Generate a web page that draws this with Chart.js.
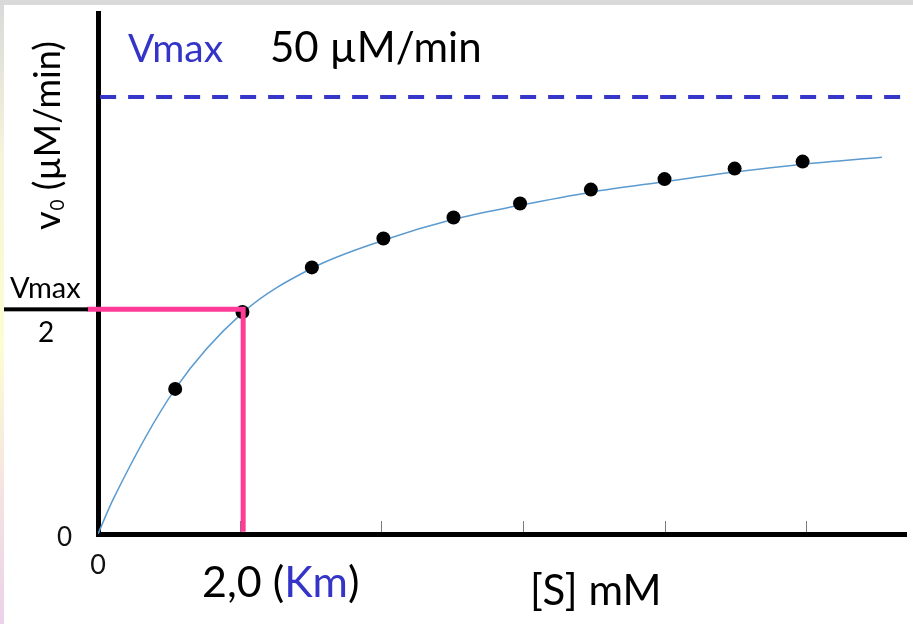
<!DOCTYPE html>
<html>
<head>
<meta charset="utf-8">
<title>Michaelis-Menten</title>
<script src="https://cdn.jsdelivr.net/npm/chart.js@4.4.0/dist/chart.umd.min.js"></script>
<style>
  html, body { margin: 0; padding: 0; background: #fff; }
  #frame {
    position: relative; width: 913px; height: 624px; overflow: hidden;
    background: linear-gradient(to bottom, #d9d9d9 0%, #f6f4da 25%, #fdfdd2 55%, #f4e2e2 80%, #ead2ea 100%);
  }
  #frame::before { content: ''; position: absolute; left: 0; top: 0; width: 913px; height: 5px; background: #d9d9d9; }
  #plot { position: absolute; left: 4px; top: 5px; width: 909px; height: 619px; background: #fff; }
</style>
</head>
<body>
<div id="frame"><div id="plot"><canvas id="mmChart"></canvas></div></div>
<script>
// Dados: [S] em mM, v0 em µM/min
const substrate = [1.09, 2.04, 3.02, 4.03, 5.02, 5.96, 6.96, 8.0, 8.99, 9.95];
const velocity  = [16.6, 25.4, 30.5, 33.8, 36.2, 37.8, 39.4, 40.6, 41.8, 42.6];

// curva ajustada (azul) - pontos lidos ao longo da linha
const curveS = [0, 0.21, 1.09, 2.04, 3.02, 4.03, 5.02, 5.96, 6.96, 8.0, 8.99, 9.95, 11.07];
const curveV = [0, 3.9, 16.6, 25.3, 30.4, 33.6, 36.0, 37.6, 39.1, 40.3, 41.4, 42.3, 43.1];

const vmax = 50;
const halfVmax = 25.7;
const km = 2.05;
const xRange = [0, 11.41];
const yRange = [0, 59.6];
const xTickMarks = [2, 4, 6, 8, 10];

const FONT = 'Lato, "Open Sans", sans-serif';
const BLUE_TEXT = '#3434c8';

function toPoints(xs, ys) {
    return xs.map((x, i) => ({ x: x, y: ys[i] }));
}

// sem padding extra dos rótulos: área do gráfico fica fixa
function noPadding(s) {
    s.paddingTop = 0;
    s.paddingBottom = 0;
    s.paddingLeft = 0;
    s.paddingRight = 0;
}

// desenha textos e marcas do eixo x
const annotations = {
    id: 'annotations',
    beforeDatasetsDraw(chart) {
        const { ctx, scales: { x }, chartArea } = chart;
        ctx.save();
        ctx.strokeStyle = '#7a7a7a';
        ctx.lineWidth = 1;
        xTickMarks.forEach(v => {
            const px = Math.round(x.getPixelForValue(v)) + 0.5;
            ctx.beginPath();
            ctx.moveTo(px, chartArea.bottom - 2);
            ctx.lineTo(px, chartArea.bottom - 13);
            ctx.stroke();
        });
        ctx.restore();
    },
    afterDraw(chart) {
        const { ctx, scales: { y } } = chart;
        ctx.save();
        ctx.textBaseline = 'alphabetic';
        ctx.textAlign = 'left';

        // Vmax 50 µM/min
        ctx.font = `39px ${FONT}`;
        ctx.fillStyle = BLUE_TEXT;
        ctx.fillText('Vmax', 124, 57);
        ctx.fillStyle = '#000';
        ctx.font = `42px ${FONT}`;
        ctx.fillText('50 µM/min', 266, 57);

        // titulo do eixo y: v0 (µM/min)
        ctx.save();
        ctx.translate(56, 225);
        ctx.rotate(-Math.PI / 2);
        ctx.font = `36px ${FONT}`;
        ctx.fillText('v', 0, 0);
        let w = ctx.measureText('v').width;
        ctx.font = `19px ${FONT}`;
        ctx.fillText('0', w + 1, 4);
        w += ctx.measureText('0').width + 1;
        ctx.font = `36px ${FONT}`;
        ctx.fillText(' (µM/min)', w, 0);
        ctx.restore();

        // fração Vmax / 2
        const yHalf = y.getPixelForValue(halfVmax);
        ctx.font = `29px ${FONT}`;
        ctx.fillText('Vmax', 6, yHalf - 11);
        ctx.fillRect(0, yHalf - 2, 84, 4);
        ctx.textAlign = 'center';
        ctx.font = `28px ${FONT}`;
        ctx.fillText('2', 42, yHalf + 33);
        ctx.textAlign = 'left';

        // 2,0 (Km)
        ctx.font = `43px ${FONT}`;
        let tx = 198;
        ctx.fillStyle = '#000';
        ctx.fillText('2,0 (', tx, 592);
        tx += ctx.measureText('2,0 (').width;
        ctx.fillStyle = BLUE_TEXT;
        ctx.fillText('Km', tx, 592);
        tx += ctx.measureText('Km').width;
        ctx.fillStyle = '#000';
        ctx.fillText(')', tx, 592);

        // [S] mM
        ctx.font = `42px ${FONT}`;
        ctx.fillText('[S] mM', 526, 600);
        ctx.restore();
    }
};

const ctx = document.getElementById('mmChart').getContext('2d');
const mmChart = new Chart(ctx, {
    type: 'scatter',
    data: {
        datasets: [
            {
                label: 'Vmax/2 e Km',
                data: [{ x: -0.15, y: halfVmax }, { x: km, y: halfVmax }, { x: km, y: 0.25 }],
                showLine: true,
                borderColor: '#ff3b98',
                borderWidth: 5,
                pointRadius: 0,
                tension: 0,
                clip: false,
                order: 1
            },
            {
                label: 'Vmax',
                data: [{ x: 0.03, y: vmax }, { x: xRange[1], y: vmax }],
                showLine: true,
                borderColor: '#3636c8',
                borderWidth: 4,
                borderDash: [16, 12],
                pointRadius: 0,
                order: 2
            },
            {
                label: 'v0 medido',
                data: toPoints(substrate, velocity),
                showLine: false,
                pointRadius: 7,
                pointBackgroundColor: '#000',
                pointBorderWidth: 0,
                order: 3
            },
            {
                label: 'curva',
                data: toPoints(curveS, curveV),
                showLine: true,
                borderColor: '#5b9bd0',
                borderWidth: 1.5,
                pointRadius: 0,
                cubicInterpolationMode: 'monotone',
                order: 4
            }
        ]
    },
    options: {
        responsive: true,
        maintainAspectRatio: false,
        animation: false,
        layout: { padding: { top: 8, left: 0, right: 0, bottom: 0 } },
        plugins: { legend: { display: false }, tooltip: { enabled: false } },
        scales: {
            x: {
                type: 'linear',
                min: xRange[0],
                max: xRange[1],
                grid: { drawOnChartArea: false, drawTicks: false },
                border: { color: '#000', width: 5 },
                ticks: { font: { family: FONT, size: 27 }, color: '#111', padding: 15 },
                afterBuildTicks: s => { s.ticks = [{ value: 0 }]; },
                afterFit: s => { s.height = 90; noPadding(s); }
            },
            y: {
                type: 'linear',
                min: yRange[0],
                max: yRange[1],
                grid: { drawOnChartArea: false, drawTicks: false },
                border: { color: '#000', width: 5 },
                ticks: { font: { family: FONT, size: 26 }, color: '#111', padding: 26, labelOffset: 4 },
                afterBuildTicks: s => { s.ticks = [{ value: 0 }]; },
                afterFit: s => { s.width = 94; noPadding(s); }
            }
        }
    },
    plugins: [annotations]
});
</script>
</body>
</html>
